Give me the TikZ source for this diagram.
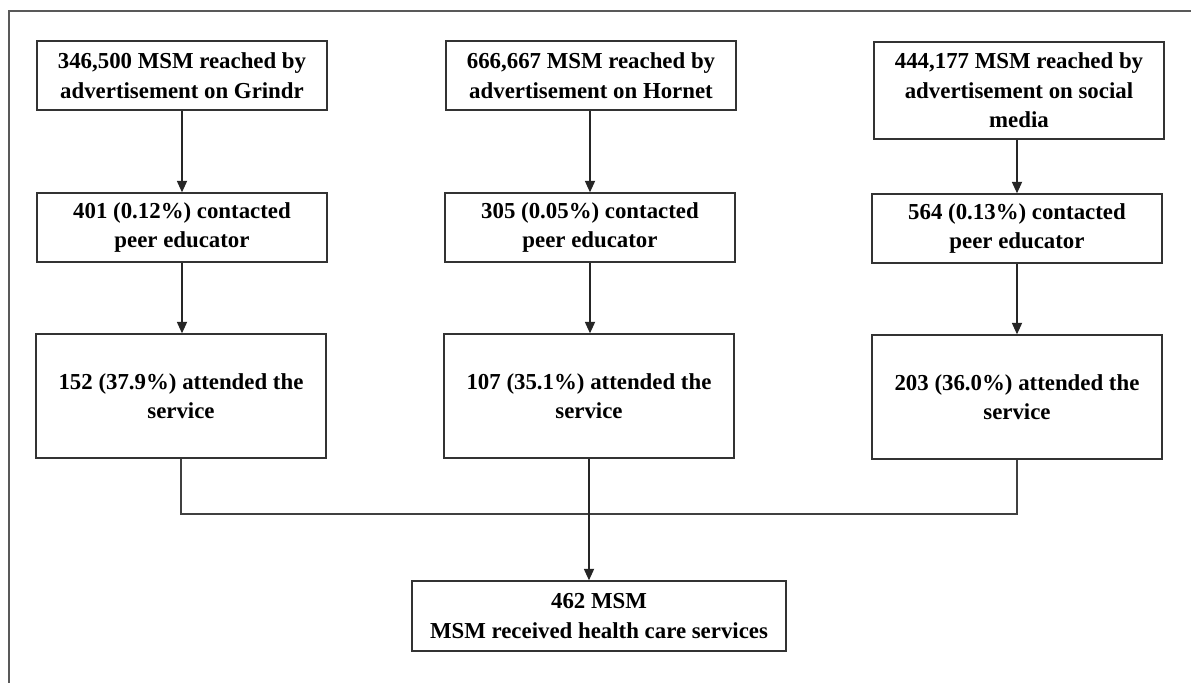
\documentclass[tikz,border=0pt]{standalone}
\usepackage{fontspec}
\setmainfont{Liberation Serif}
\usetikzlibrary{arrows.meta}

\begin{document}
\begin{tikzpicture}[
    x=0.02cm, y=-0.02cm,
    font=\bfseries\fontsize{13}{16.8}\selectfont,
    box/.style={draw=black!80, line width=0.85pt, minimum width=5.8cm,
                minimum height=1.38cm, align=center, inner sep=2pt},
    tallbox/.style={box, minimum height=2.48cm},
    arrow/.style={-{Triangle[length=6.5pt, width=5.8pt]}, line width=0.65pt, draw=black!85},
    link/.style={line width=0.65pt, draw=black!75}
]
\useasboundingbox (0,0) rectangle (1191,683);

% outer frame (right and bottom edges run off the page)
\draw[line width=1.2pt, draw=black!65] (9,683) -- (9,11) -- (1191,11);

%--------
% ROW 1: reach of each advertisement
%--------
\node[box] (g1) at (182, 75.5)  {346,500 MSM reached by\\advertisement on Grindr};
\node[box] (h1) at (591, 75.5)  {666,667 MSM reached by\\advertisement on Hornet};
\node[box, minimum height=1.94cm] (s1) at (1019, 90.5)
    {444,177 MSM reached by\\advertisement on social\\media};

%--------
% ROW 2: contacted peer educator
%--------
\node[box] (g2) at (182, 227.5)  {401 (0.12\%) contacted\\peer educator};
\node[box] (h2) at (590, 227.5)  {305 (0.05\%) contacted\\peer educator};
\node[box] (s2) at (1017, 228.5) {564 (0.13\%) contacted\\peer educator};

%--------
% ROW 3: attended the service
%--------
\node[tallbox] (g3) at (181, 396)  {152 (37.9\%) attended the\\service};
\node[tallbox] (h3) at (589, 396)  {107 (35.1\%) attended the\\service};
\node[tallbox] (s3) at (1017, 397) {203 (36.0\%) attended the\\service};

% total
\node[box, minimum width=7.48cm, minimum height=1.4cm] (total) at (599, 616)
    {462 MSM\\MSM received health care services};

% arrows down each column
\draw[arrow] (g1.south -| g2) -- (g2);
\draw[arrow] (h1.south -| h2) -- (h2);
\draw[arrow] (s1.south -| s2) -- (s2);
\draw[arrow] (g2) -- (g2.south |- g3.north);
\draw[arrow] (h2) -- (h2.south |- h3.north);
\draw[arrow] (s2) -- (s2.south |- s3.north);

% merge into the total
\coordinate (join) at (589, 514);
\draw[link] (g3.south) -- (g3.south |- join) -- (s3.south |- join) -- (s3.south);
\draw[arrow] (h3.south) -- (h3.south |- total.north);

\end{tikzpicture}
\end{document}
